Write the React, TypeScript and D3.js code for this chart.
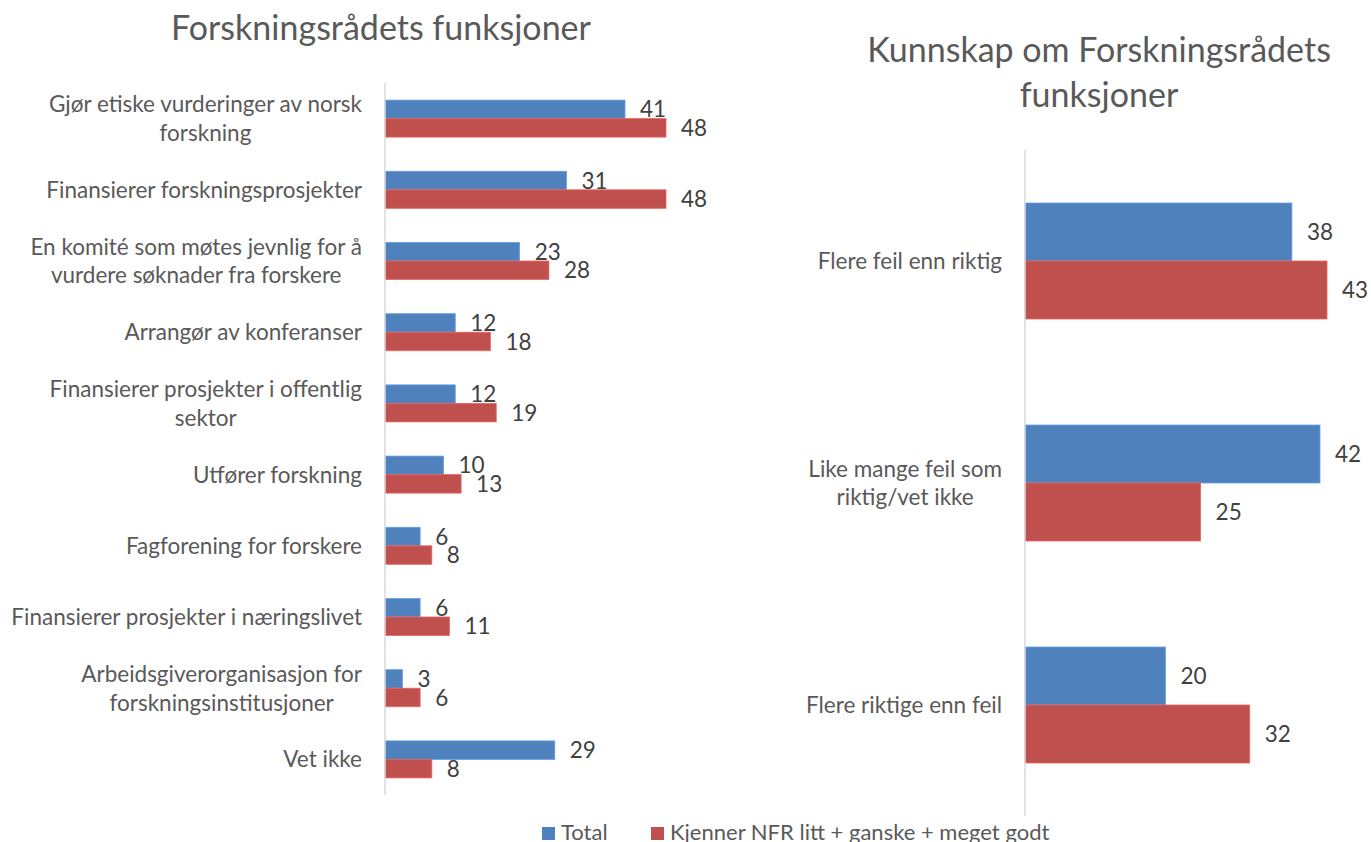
import { useEffect, useRef } from 'react';
import * as d3 from 'd3';

// --- data ---
const seriesNames = ['Total', 'Kjenner NFR litt + ganske + meget godt'];
const seriesColors = ['#4F81BD', '#C0504D'];

const functionCategories = [
  'Gjør etiske vurderinger av norsk\nforskning',
  'Finansierer forskningsprosjekter',
  'En komité som møtes jevnlig for å\nvurdere søknader fra forskere',
  'Arrangør av konferanser',
  'Finansierer prosjekter i offentlig\nsektor',
  'Utfører forskning',
  'Fagforening for forskere',
  'Finansierer prosjekter i næringslivet',
  'Arbeidsgiverorganisasjon for\nforskningsinstitusjoner',
  'Vet ikke',
];
const functionTotal = [41, 31, 23, 12, 12, 10, 6, 6, 3, 29];
const functionKnows = [48, 48, 28, 18, 19, 13, 8, 11, 6, 8];

const knowledgeCategories = [
  'Flere feil enn riktig',
  'Like mange feil som\nriktig/vet ikke',
  'Flere riktige enn feil',
];
const knowledgeTotal = [38, 42, 20];
const knowledgeKnows = [43, 25, 32];

const FONT = 'Lato, "Noto Sans", sans-serif';

export default function App() {
  const svgRef = useRef<SVGSVGElement>(null);

  useEffect(() => {
    if (!svgRef.current) return;
    document.body.style.margin = '0';

    const width = 1371;
    const height = 842;

    d3.select(svgRef.current).selectAll('*').remove();
    const svg = d3.select(svgRef.current)
      .attr('width', width)
      .attr('height', height)
      .attr('viewBox', `0 0 ${width} ${height}`);

    svg.append('rect').attr('width', width).attr('height', height).style('fill', '#fff');

    // draws one horizontal grouped bar panel
    const drawPanel = (opts: {
      cats: string[];
      values: number[][];
      x0: number;
      xMax: number;
      xEnd: number;
      yTop: number;
      yBottom: number;
      padInner: number;
      fontSize: number;
      lineH: number;
    }) => {
      const { cats, values, x0, xMax, xEnd, yTop, yBottom, padInner, fontSize, lineH } = opts;
      const g = svg.append('g');

      const y = d3.scaleBand<string>()
        .domain(cats)
        .range([yTop, yBottom])
        .paddingInner(padInner)
        .paddingOuter(padInner / 2);

      const ySub = d3.scaleBand<number>()
        .domain(d3.range(values.length))
        .range([0, y.bandwidth()]);

      const x = d3.scaleLinear().domain([0, xMax]).range([x0, xEnd]);

      const rows = cats.map((c, i) => ({ cat: c, vals: values.map(s => s[i]) }));

      const groups = g.selectAll('g.row')
        .data(rows)
        .enter()
        .append('g')
        .attr('class', 'row')
        .attr('transform', d => `translate(0,${y(d.cat)})`);

      groups.selectAll('rect')
        .data(d => d.vals.map((v, s) => ({ v, s })))
        .enter()
        .append('rect')
        .attr('x', x(0))
        .attr('y', d => ySub(d.s)!)
        .attr('width', d => x(d.v) - x(0))
        .attr('height', ySub.bandwidth())
        .style('fill', d => seriesColors[d.s])
        .style('stroke', d => d3.color(seriesColors[d.s])!.brighter(0.6).formatHex())
        .style('stroke-width', '0.8px');

      groups.selectAll('text.val')
        .data(d => d.vals.map((v, s) => ({ v, s })))
        .enter()
        .append('text')
        .attr('class', 'val')
        .attr('x', d => x(d.v) + 15)
        .attr('y', d => ySub(d.s)! + ySub.bandwidth() / 2)
        .attr('dy', '0.36em')
        .text(d => d.v)
        .style('fill', '#404040')
        .style('font-family', FONT)
        .style('font-size', `${fontSize}px`);

      // category labels: wrapped lines are centred within the label block
      groups.each(function (d) {
        const lines = d.cat.split('\n');
        const t = d3.select(this).append('text')
          .style('fill', '#595959')
          .style('font-family', FONT)
          .style('font-size', `${fontSize}px`);
        const start = y.bandwidth() / 2 - ((lines.length - 1) * lineH) / 2;
        const spans = lines.map((ln, i) =>
          t.append('tspan')
            .attr('y', start + i * lineH)
            .attr('dy', '0.36em')
            .text(ln));
        const widths = spans.map(s => (s.node() as SVGTextContentElement).getComputedTextLength());
        const maxW = d3.max(widths) || 0;
        const right = x0 - 23;
        if (lines.length === 1) {
          t.attr('text-anchor', 'end');
          spans[0].attr('x', right);
        } else {
          t.attr('text-anchor', 'middle');
          spans.forEach(s => s.attr('x', right - maxW / 2));
        }
      });

      // category axis line
      g.append('line')
        .attr('x1', x0).attr('x2', x0)
        .attr('y1', yTop).attr('y2', yBottom)
        .style('stroke', '#d9d9d9')
        .style('stroke-width', '1.5px');
    };

    drawPanel({
      cats: functionCategories,
      values: [functionTotal, functionKnows],
      x0: 385,
      xMax: 48,
      xEnd: 666,
      yTop: 83,
      yBottom: 795,
      padInner: 0.48,
      fontSize: 22.5,
      lineH: 28.5,
    });

    drawPanel({
      cats: knowledgeCategories,
      values: [knowledgeTotal, knowledgeKnows],
      x0: 1025,
      xMax: 43,
      xEnd: 1327,
      yTop: 150,
      yBottom: 816,
      padInner: 0.4775,
      fontSize: 22.5,
      lineH: 28.5,
    });

    // titles
    const title = (lines: string[], cx: number, y0: number) => {
      const t = svg.append('text')
        .attr('text-anchor', 'middle')
        .style('fill', '#595959')
        .style('font-family', FONT)
        .style('font-size', '34px');
      lines.forEach((ln, i) => {
        t.append('tspan').attr('x', cx).attr('y', y0 + i * 45).text(ln);
      });
    };
    title(['Forskningsrådets funksjoner'], 381, 40);
    title(['Kunnskap om Forskningsrådets', 'funksjoner'], 1099, 62);

    // legend
    const legend = svg.append('g').attr('transform', 'translate(542,840)');
    const legendX = [0, 109];
    seriesNames.forEach((name, i) => {
      const item = legend.append('g').attr('transform', `translate(${legendX[i]},0)`);
      item.append('rect')
        .attr('x', 0).attr('y', -13)
        .attr('width', 13).attr('height', 13)
        .style('fill', seriesColors[i]);
      item.append('text')
        .attr('x', 19).attr('y', 0)
        .text(name)
        .style('fill', '#595959')
        .style('font-family', FONT)
        .style('font-size', '22px');
    });
  }, []);

  return (
    <div style={{ width: 1371, height: 842, overflow: 'hidden' }}>
      <svg ref={svgRef} style={{ display: 'block' }} />
    </div>
  );
}
